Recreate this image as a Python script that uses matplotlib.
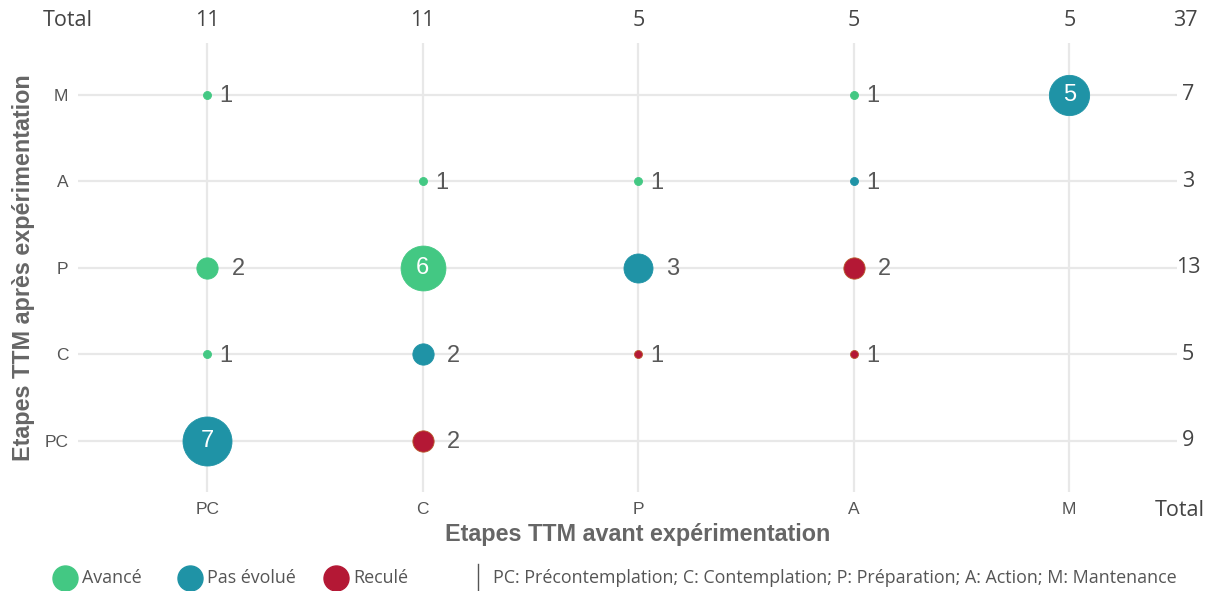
import matplotlib

matplotlib.use("Agg")
import matplotlib.pyplot as plt
from matplotlib.lines import Line2D

# ---- data ---------------------------------------------------------------
stages = ["PC", "C", "P", "A", "M"]
avant = ["PC", "PC", "PC", "PC", "C", "C", "C", "C", "P", "P", "P", "A", "A", "A", "A", "M"]
apres = ["M", "P", "C", "PC", "A", "P", "C", "PC", "A", "P", "C", "M", "A", "P", "C", "M"]
counts = [1, 2, 1, 7, 1, 6, 2, 2, 1, 3, 1, 1, 1, 2, 1, 5]
groups = ["Avancé", "Avancé", "Avancé", "Pas évolué",
          "Avancé", "Avancé", "Pas évolué", "Reculé",
          "Avancé", "Pas évolué", "Reculé",
          "Avancé", "Pas évolué", "Reculé", "Reculé",
          "Pas évolué"]
col_totals = [11, 11, 5, 5, 5]
row_totals = [9, 5, 13, 3, 7]     # PC, C, P, A, M
grand_total = 37
legend_note = "PC: Précontemplation; C: Contemplation; P: Préparation; A: Action; M: Mantenance"

colors = {"Avancé": "#43C883", "Pas évolué": "#1F93A6", "Reculé": "#B41835"}
edges = {"Avancé": "#43C883", "Pas évolué": "#1F93A6", "Reculé": "#B85A2A"}

GRID = "#E8E8E8"
TXT = "#555555"
NUM = "#444444"
W, H = 1218, 591


def radius_px(v, vmin=1, vmax=7, rmin=4.0, rmax=24.5):
    # area proportional scaling between rmin and rmax
    a = rmin ** 2 + (v - vmin) / (vmax - vmin) * (rmax ** 2 - rmin ** 2)
    return a ** 0.5


def fy(py):
    return 1 - py / H


fig = plt.figure(figsize=(W / 100, H / 100), dpi=100)
ax = fig.add_axes([78 / W, fy(492), 1099 / W, 449 / H])
ax.set_xlim(-0.6, 4.5)
ax.set_ylim(-0.59, 4.6)
for s in ax.spines.values():
    s.set_visible(False)
ax.set_xticks(range(5))
ax.set_yticks(range(5))
ax.set_xticklabels(stages, fontsize=12.5, color=TXT, family="Liberation Sans")
ax.set_yticklabels(stages, fontsize=12.5, color=TXT, family="Liberation Sans")
ax.tick_params(length=0, pad=7)
ax.grid(True, color=GRID, lw=1.6, zorder=0)
ax.set_axisbelow(True)

px2pt = 72 / 100
for a_, b_, n, g in zip(avant, apres, counts, groups):
    x = stages.index(a_)
    y = stages.index(b_)
    r = radius_px(n)
    ax.scatter(x, y, s=(2 * r * px2pt) ** 2, color=colors[g], edgecolor=edges[g],
               lw=0.6, zorder=3)
    if n >= 5:
        ax.text(x, y, str(n), ha="center", va="center", color="white", fontsize=17,
                family="Liberation Sans", zorder=4)
    else:
        gap = 15 if n == 1 else 20
        ax.annotate(str(n), (x, y), xytext=((r + gap) * px2pt, -1), textcoords="offset points",
                    ha="center", va="center", color="#595959", fontsize=17,
                    family="Liberation Sans", zorder=4)

# totals row (top) and column (right)
for i, t in enumerate(col_totals):
    ax.annotate(str(t), (i, fy(21)), xycoords=("data", "figure fraction"),
                ha="center", va="center", fontsize=15.5, color=NUM, family="Open Sans")
fig.text(68 / W, fy(21), "Total", ha="center", va="center", fontsize=15.5, color=NUM,
         family="Open Sans")
fig.text(1185 / W, fy(21), str(grand_total), ha="center", va="center", fontsize=15.5,
         color=NUM, family="Open Sans")
for j, t in enumerate(row_totals):
    ax.annotate(str(t), (1188 / W, j), xycoords=("figure fraction", "data"),
                ha="center", va="center", fontsize=15.5, color=NUM, family="Open Sans")
fig.text(1180 / W, fy(510), "Total", ha="center", va="center", fontsize=15.5, color=NUM,
         family="Open Sans")

fig.text(638 / W, fy(535), "Etapes TTM avant expérimentation", ha="center", va="center",
         fontsize=16.8, fontweight="bold", color="#666666", family="Liberation Sans")
fig.text(24 / W, fy(268), "Etapes TTM après expérimentation", ha="center", va="center",
         rotation=90, fontsize=16.8, fontweight="bold", color="#666666", family="Liberation Sans")

# legend
ly = fy(578)
for cx, g in zip([65, 190, 336], ["Avancé", "Pas évolué", "Reculé"]):
    fig.add_artist(Line2D([cx / W], [ly], marker="o", markersize=18, color=colors[g],
                          markeredgecolor=colors[g], lw=0))
    fig.text((cx + 17) / W, ly, g, ha="left", va="center", fontsize=12.9, color=TXT,
             family="Open Sans")
fig.add_artist(Line2D([478 / W, 478 / W], [fy(564), fy(591)], color="#555555", lw=1))
fig.text(493 / W, ly, legend_note, ha="left", va="center", fontsize=12.9, color=TXT,
         family="Open Sans")

fig.savefig("out.png", dpi=100)
